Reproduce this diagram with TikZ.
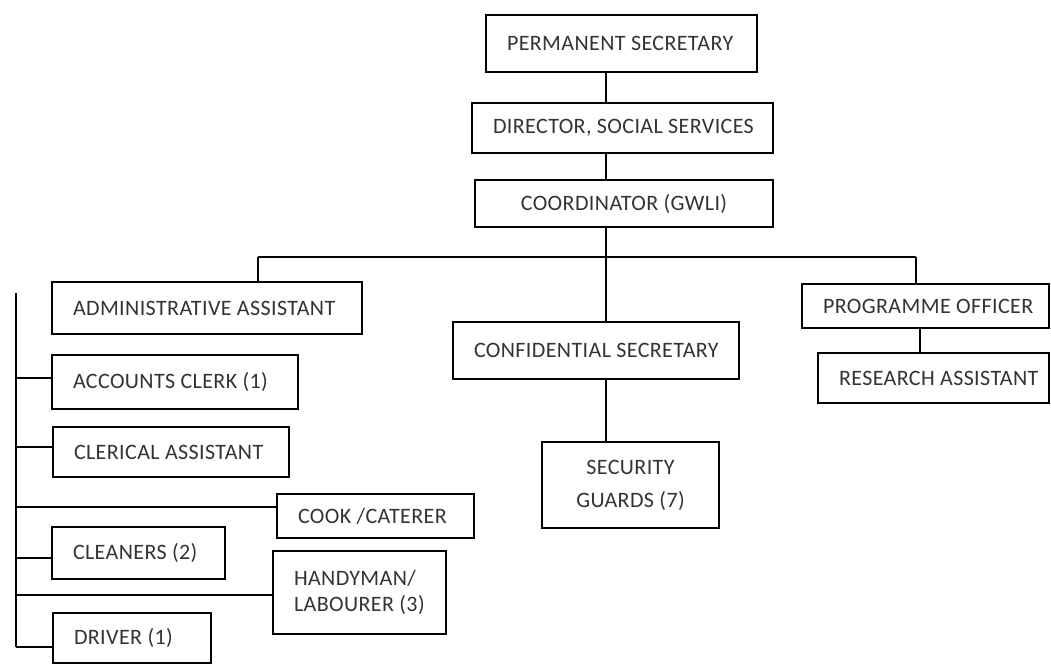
\documentclass[tikz,border=0pt]{standalone}
\usepackage{fontspec}
\setmainfont[LetterSpace=1.8]{Carlito}
\newcommand\lbl[2]{\makebox[#1pt][l]{#2}}
\tikzset{
  box/.style={draw, line width=1.2pt, rectangle, inner xsep=21pt, inner ysep=0pt,
    font=\fontsize{22}{26.4}\selectfont, text=black!80},
  link/.style={line width=1.2pt}
}
\begin{document}
\begin{tikzpicture}[x=1pt,y=-1pt]
\useasboundingbox (0,0) rectangle (1051,664);
% top chain
\node[box, minimum height=57pt] (ps) at (621.5,43.5) {\lbl{229}{PERMANENT SECRETARY}};
\node[box, minimum height=50pt] (dir) at (622.5,128) {\lbl{259}{DIRECTOR, SOCIAL SERVICES}};
\node[box, minimum width=298pt, minimum height=47pt] (coord) at (624,203.5) {COORDINATOR (GWLI)};
% second row
\node[box, minimum height=52pt] (admin) at (207,308) {\lbl{268}{ADMINISTRATIVE ASSISTANT}};
\node[box, minimum height=57pt] (conf) at (596,350.5) {\lbl{244}{CONFIDENTIAL SECRETARY}};
\node[box, minimum height=44pt] (prog) at (925.5,306) {\lbl{205}{PROGRAMME OFFICER}};
\node[box, minimum height=50pt] (res) at (933.5,378) {\lbl{189}{RESEARCH ASSISTANT}};
\node[box, minimum width=177pt, minimum height=86pt, align=center] (sec) at (630.5,485) {SECURITY\\[6.6pt]GUARDS (7)};
% left column
\node[box, minimum height=54pt] (acc) at (175,382) {\lbl{204}{ACCOUNTS CLERK (1)}};
\node[box, minimum height=50pt] (cler) at (171,452) {\lbl{194}{CLERICAL ASSISTANT}};
\node[box, minimum height=44pt] (cook) at (375.5,516) {\lbl{155}{COOK /CATERER}};
\node[box, minimum height=52pt] (clean) at (138.5,553) {\lbl{131}{CLEANERS (2)}};
\node[box, minimum height=83pt] (handy) at (359.5,592.5) {\parbox[c]{131pt}{\raggedright HANDYMAN/\\LABOURER (3)}};
\node[box, minimum height=50pt] (driver) at (132,638) {\lbl{116}{DRIVER (1)}};
% coordinates
\coordinate (spine) at (606,257);
\coordinate (busL) at (258,257);
\coordinate (busR) at (916,257);
\coordinate (pr) at (920,0);
\coordinate (lbTop) at (16,293);
\coordinate (lbBot) at (16,647);
% connectors
\draw[link] (ps.south -| spine) -- (dir.north -| spine);
\draw[link] (dir.south -| spine) -- (coord.north -| spine);
\draw[link] (coord.south -| spine) -- (conf.north -| spine);
\draw[link] (busL) -- (busR);
\draw[link] (busL) -- (admin.north -| busL);
\draw[link] (busR) -- (prog.north -| busR);
\draw[link] (conf.south -| spine) -- (sec.north -| spine);
\draw[link] (prog.south -| pr) -- (res.north -| pr);
\draw[link] (lbTop) -- (lbBot);
\draw[link] ([yshift=4pt]acc.west -| lbTop) -- ([yshift=4pt]acc.west);
\draw[link] ([yshift=5pt]cler.west -| lbTop) -- ([yshift=5pt]cler.west);
\draw[link] ([yshift=9pt]cook.west -| lbTop) -- ([yshift=9pt]cook.west);
\draw[link] ([yshift=-5pt]clean.west -| lbTop) -- ([yshift=-5pt]clean.west);
\draw[link] ([yshift=-2.5pt]handy.west -| lbTop) -- ([yshift=-2.5pt]handy.west);
\draw[link] ([yshift=-9pt]driver.west -| lbTop) -- ([yshift=-9pt]driver.west);
\end{tikzpicture}
\end{document}
